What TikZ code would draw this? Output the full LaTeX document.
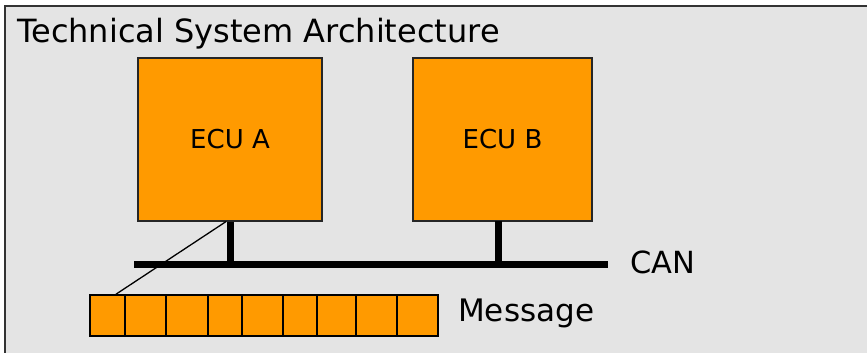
\documentclass[tikz,border=0pt]{standalone}
\usepackage{fontspec}
\setmainfont{DejaVu Sans}
\definecolor{bgc}{HTML}{E4E4E4}
\definecolor{ecuorange}{HTML}{FF9A00}
\begin{document}
\begin{tikzpicture}[x=1pt,y=-1pt,
  ecubox/.style={draw=black!85,line width=1.2pt,fill=ecuorange,inner sep=0pt,font=\fontsize{26}{30}\selectfont},
  cell/.style={draw=black,line width=1.6pt,fill=ecuorange,inner sep=0pt,minimum height=41pt},
  bigtext/.style={font=\fontsize{30.5}{34}\selectfont,inner sep=0pt},
  titletext/.style={font=\fontsize{32}{36}\selectfont,inner sep=0pt},
  busline/.style={line width=7pt},
  thin/.style={line width=1.3pt}]
\useasboundingbox (0,0) rectangle (867,353);
\node[draw=black!80,line width=2pt,fill=bgc,inner sep=0pt,minimum width=870pt,minimum height=355pt,anchor=north west] (frame) at (4,5) {};
\node[titletext,anchor=base west] (title) at (17,43) {Technical System Architecture};
\node[ecubox,minimum width=184pt,minimum height=163pt] (ecuA) at (230,139.5) {ECU A};
\node[ecubox,minimum width=179pt,minimum height=163pt] (ecuB) at (502.5,139.5) {ECU B};
\coordinate (busL) at (134,264);
\coordinate (busR) at (608,264);
\draw[busline] (busL) -- (busR);
\coordinate (stubB) at (498,221);
\draw[busline] (ecuA.south) -- (ecuA.south |- busL);
\draw[busline] (stubB) -- (stubB |- busL);
\node[bigtext,anchor=base west] (can) at (630,273) {CAN};
% message cells
\foreach \i/\a/\b in {1/90/125,2/125/166,3/166/208,4/208/242,5/242/283,6/283/317,7/317/356,8/356/397,9/397/438}{
  \pgfmathsetmacro{\w}{\b-\a}
  \pgfmathsetmacro{\c}{(\a+\b)/2}
  \node[cell,minimum width=\w pt] (m\i) at (\c,315.5) {};
}
\node[font=\fontsize{31}{35}\selectfont,inner sep=0pt,anchor=base west] (msg) at (458,321.5) {Message};
\coordinate (dA) at ([xshift=-4pt]ecuA.south);
\coordinate (dM) at ([xshift=8.5pt]m1.north);
\draw[thin] (dA) -- (dM);
\end{tikzpicture}
\end{document}
